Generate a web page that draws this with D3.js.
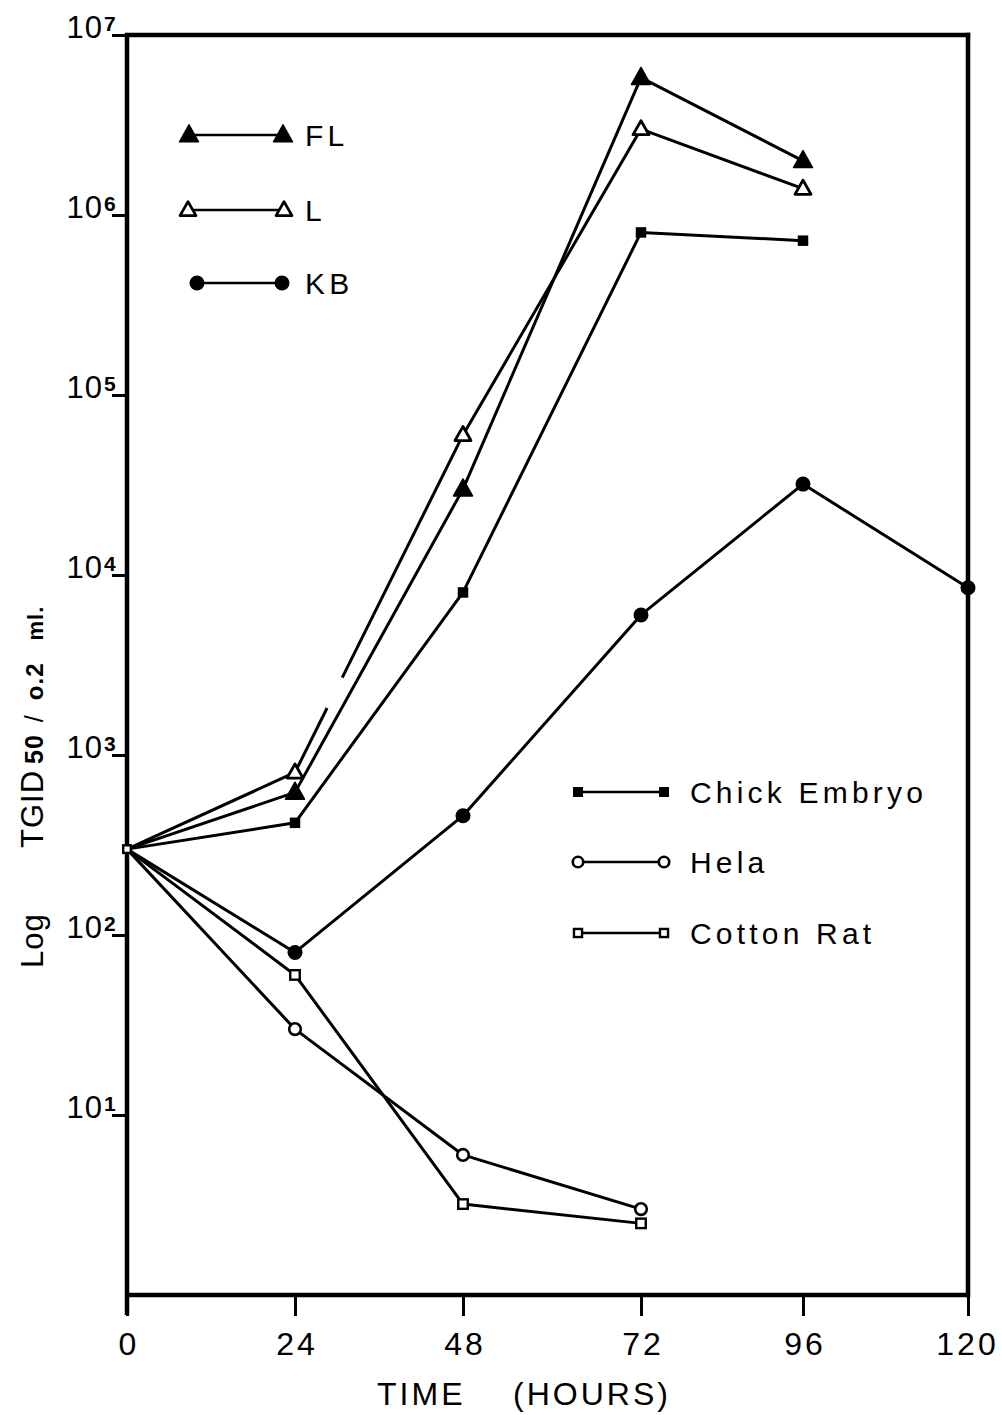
<!DOCTYPE html>
<html>
<head>
<meta charset="utf-8">
<script src="https://cdn.jsdelivr.net/npm/d3@7"></script>
<style>
  html, body { margin: 0; padding: 0; background: #fff; }
  svg text { font-family: "Liberation Sans", "DejaVu Sans", sans-serif; fill: #000; }
</style>
</head>
<body>
<svg id="chart" width="1002" height="1415"></svg>
<script>
// ---- data ----
const hours = [0, 24, 48, 72, 96, 120];
const timeTicks = [0, 24, 48, 72, 96, 120];
const yTicks = [10, 100, 1000, 10000, 100000, 1000000, 10000000];
const yTickExp = ["1", "2", "3", "4", "5", "6", "7"];

const flValues = [300, 620, 30000, 5800000, 2000000];
const lValues = [300, 800, 60000, 3000000, 1400000];
const kbValues = [300, 80, 460, 6000, 32000, 8500];
const chickValues = [300, 420, 8000, 800000, 720000];
const helaValues = [300, 30, 6, 3];
const cottonValues = [300, 60, 3.2, 2.5];

const legendTopNames = ["FL", "L", "KB"];
const legendBottomNames = ["Chick Embryo", "Hela", "Cotton Rat"];

// ---- scales ----
const svg = d3.select("#chart");
const x = d3.scaleLinear().domain(timeTicks).range([127, 295, 463, 641, 803, 968]);
const y = d3.scaleLog().domain([1, 1e7]).range([1295, 35]);

const series = [
  { name: "FL", values: flValues, marker: "triFilled" },
  { name: "L", values: lValues, marker: "triOpen" },
  { name: "KB", values: kbValues, marker: "circFilled" },
  { name: "Chick Embryo", values: chickValues, marker: "sqFilled" },
  { name: "Hela", values: helaValues, marker: "circOpen" },
  { name: "Cotton Rat", values: cottonValues, marker: "sqOpen" }
];

function drawMarker(g, type, cx, cy, scale) {
  const s = scale || 1;
  if (type === "triFilled") {
    const w = 9.5 * s, h = 17 * s;
    g.append("path").attr("d", `M${cx},${cy - h * 0.6} L${cx + w},${cy + h * 0.4} L${cx - w},${cy + h * 0.4} Z`)
      .attr("fill", "#000").attr("stroke", "#000").attr("stroke-width", 1.5).attr("stroke-linejoin", "round");
  } else if (type === "triOpen") {
    const w = 8 * s, h = 14 * s;
    g.append("path").attr("d", `M${cx},${cy - h * 0.6} L${cx + w},${cy + h * 0.4} L${cx - w},${cy + h * 0.4} Z`)
      .attr("fill", "#fff").attr("stroke", "#000").attr("stroke-width", 2.8).attr("stroke-linejoin", "round");
  } else if (type === "circFilled") {
    g.append("circle").attr("cx", cx).attr("cy", cy).attr("r", 7.5 * s).attr("fill", "#000");
  } else if (type === "circOpen") {
    g.append("circle").attr("cx", cx).attr("cy", cy).attr("r", 5.8 * s)
      .attr("fill", "#fff").attr("stroke", "#000").attr("stroke-width", 2.6);
  } else if (type === "sqFilled") {
    const a = 10.5 * s;
    g.append("rect").attr("x", cx - a / 2).attr("y", cy - a / 2).attr("width", a).attr("height", a).attr("fill", "#000");
  } else if (type === "sqOpen") {
    const a = 9.5 * s;
    g.append("rect").attr("x", cx - a / 2).attr("y", cy - a / 2).attr("width", a).attr("height", a)
      .attr("fill", "#fff").attr("stroke", "#000").attr("stroke-width", 2.4);
  }
}

// ---- frame & axes ----
const lineW = 4.5;
svg.append("line").attr("x1", x(0)).attr("x2", x(120)).attr("y1", y(1e7)).attr("y2", y(1e7))
  .attr("stroke", "#000").attr("stroke-width", lineW).attr("stroke-linecap", "square");
svg.append("line").attr("x1", x(120)).attr("x2", x(120)).attr("y1", y(1e7)).attr("y2", y(1))
  .attr("stroke", "#000").attr("stroke-width", lineW).attr("stroke-linecap", "square");

// bottom axis
const xAxis = d3.axisBottom(x).tickValues(timeTicks).tickSize(21).tickPadding(9).tickFormat(d3.format("d"));
const gx = svg.append("g").attr("transform", `translate(0,${y(1)})`).call(xAxis);
gx.select(".domain").attr("stroke", "#000").attr("stroke-width", lineW).attr("d", `M${x(0)},0H${x(120)}`);
gx.selectAll(".tick line").attr("stroke", "#000").attr("stroke-width", 3);
gx.selectAll(".tick text").style("font-size", "32px").style("letter-spacing", "3px")
  .attr("font-family", "Liberation Sans").attr("dy", "0.95em").attr("dx", d => d === 120 ? -1 : 1.5);

// left axis
const yAxis = d3.axisLeft(y).tickValues(yTicks).tickSize(15).tickFormat("");
const gy = svg.append("g").attr("transform", `translate(${x(0)},0)`).call(yAxis);
gy.select(".domain").attr("stroke", "#000").attr("stroke-width", lineW).attr("d", `M0,${y(1e7)}V${y(1) + 20}`);
gy.selectAll(".tick line").attr("stroke", "#000").attr("stroke-width", 3);

// y tick labels with superscripts
yTicks.forEach((v, i) => {
  svg.append("text").attr("x", 103).attr("y", y(v) + 3)
    .attr("text-anchor", "end").style("font-size", "31px").style("letter-spacing", "1px").text("10");
  svg.append("text").attr("x", 104).attr("y", y(v) - 4)
    .attr("text-anchor", "start").style("font-size", "21px").style("font-weight", "bold").text(yTickExp[i]);
});

// axis titles
svg.append("text").attr("x", 524).attr("y", 1405).attr("text-anchor", "middle")
  .style("font-size", "32px").style("letter-spacing", "3px").attr("xml:space", "preserve")
  .text("TIME    (HOURS)");

const yTitle = svg.append("g").attr("transform", "translate(43,0) rotate(-90)");
yTitle.append("text").attr("x", -968).attr("y", 0).style("font-size", "31px").style("letter-spacing", "1px").text("Log");
const tt = yTitle.append("text").attr("x", -848).attr("y", 0).style("font-size", "31px").style("letter-spacing", "1px");
tt.append("tspan").text("TGID");
tt.append("tspan").style("font-size", "25px").style("font-weight", "bold").attr("dx", 6).text("50");
tt.append("tspan").style("font-size", "25px").attr("dx", 12).text("/");
tt.append("tspan").style("font-size", "24px").style("font-weight", "bold").attr("dx", 14).text("o.2");
tt.append("tspan").style("font-size", "22px").style("font-weight", "bold").attr("dx", 22).text("ml.");

// ---- data lines ----
const lineGen = d3.line().x((d, i) => x(hours[i])).y(d => y(d));
const gLines = svg.append("g");
series.forEach(s => {
  const p = gLines.append("path").attr("d", lineGen(s.values))
    .attr("fill", "none").attr("stroke", "#000").attr("stroke-width", 3).attr("stroke-linejoin", "round");
  if (s.name === "L") {
    const seg0 = Math.hypot(x(hours[1]) - x(hours[0]), y(s.values[1]) - y(s.values[0]));
    p.attr("stroke-dasharray", `${seg0 + 72} 34 5000`);
  }
});

// ---- markers ----
const gMarks = svg.append("g");
series.forEach(s => {
  s.values.forEach((v, i) => {
    if (i === 0 && s.name !== "Cotton Rat") return;
    const sc = (i === 0) ? 0.8 : 1;
    drawMarker(gMarks, s.marker, x(hours[i]), y(v), sc);
  });
});

// ---- legends ----
const legTop = [
  { name: legendTopNames[0], marker: "triFilled", x1: 189, x2: 283, y: 135, sc: 1 },
  { name: legendTopNames[1], marker: "triOpen", x1: 188, x2: 284, y: 210, sc: 1 },
  { name: legendTopNames[2], marker: "circFilled", x1: 197, x2: 282, y: 283, sc: 1 }
];
const legBot = [
  { name: legendBottomNames[0], marker: "sqFilled", x1: 578, x2: 664, y: 792, sc: 0.95 },
  { name: legendBottomNames[1], marker: "circOpen", x1: 578, x2: 664, y: 862, sc: 0.9 },
  { name: legendBottomNames[2], marker: "sqOpen", x1: 578, x2: 664, y: 933, sc: 0.85 }
];
const gLeg = svg.append("g");
[...legTop, ...legBot].forEach((d, k) => {
  gLeg.append("line").attr("x1", d.x1).attr("x2", d.x2).attr("y1", d.y).attr("y2", d.y)
    .attr("stroke", "#000").attr("stroke-width", 2.6);
  drawMarker(gLeg, d.marker, d.x1, d.y, d.sc);
  drawMarker(gLeg, d.marker, d.x2, d.y, d.sc);
  const tx = k < 3 ? 305 : 690;
  gLeg.append("text").attr("x", tx).attr("y", d.y + 11).style("font-size", "30px")
    .style("letter-spacing", "4.2px").text(d.name);
});
</script>
</body>
</html>
